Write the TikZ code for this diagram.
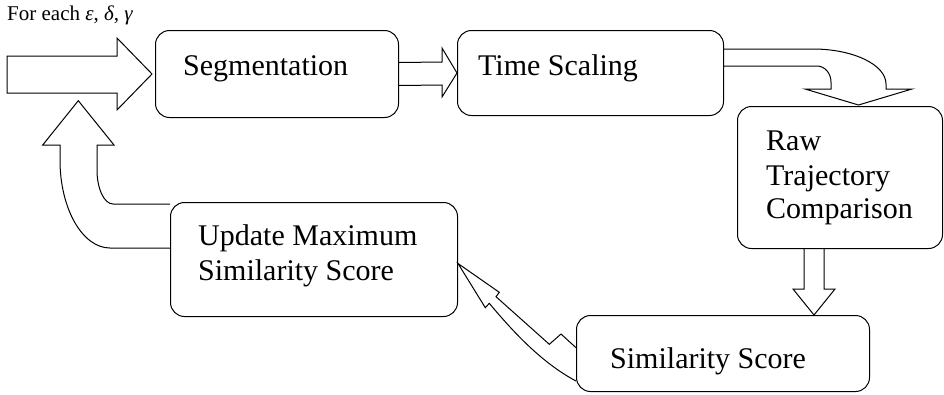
\documentclass[tikz,border=0pt]{standalone}
\usepackage{fontspec}
\setmainfont{Liberation Serif}
\newfontfamily\boxfont{Liberation Serif}
\usetikzlibrary{calc}
\begin{document}
\begin{tikzpicture}[x=1pt,y=-1pt,
  box/.style={draw, line width=1pt, rounded corners=14pt, anchor=north west, inner sep=0pt},
  lbl/.style={anchor=base west, inner sep=0pt, font=\boxfont\fontsize{30}{34.5}\selectfont},
  blockarrow/.style={draw, line width=1pt, line join=miter}]
\useasboundingbox (0,0) rectangle (944,394);

% process boxes
\node[box, minimum width=243pt, minimum height=87pt]  (seg) at (155,30)  {};
\node[box, minimum width=266pt, minimum height=85pt]  (ts)  at (457,30)  {};
\node[box, minimum width=205pt, minimum height=142pt] (raw) at (737,106) {};
\node[box, minimum width=287pt, minimum height=114pt] (upd) at (170,202) {};
\node[box, minimum width=293pt, minimum height=76pt]  (sim) at (576,315) {};

% box labels
\node[lbl] (segtxt) at (183,75)  {Segmentation};
\node[lbl] (tstxt)  at (478,75)  {Time Scaling};
\node[lbl] (raw1)   at (766,150) {Raw};
\node[lbl] (raw2)   at (766,185) {Trajectory};
\node[lbl] (raw3)   at (766,218) {Comparison};
\node[lbl] (upd1)   at (198,245) {Update Maximum};
\node[lbl] (upd2)   at (198,280) {Similarity Score};
\node[lbl] (simtxt) at (610,368) {Similarity Score};

% loop caption
\node[anchor=base west, inner sep=0pt, font=\boxfont\fontsize{21}{24}\selectfont] (cap) at (7,20)
  {For each {\itshape ε}, {\itshape δ}, {\itshape γ}};

% input arrow into segmentation
\draw[blockarrow] (7,56) -- (117,56) -- (117,38) -- ($(seg.west)+(-3,0)$) -- (117,110)
  -- (117,93) -- (7,93) -- cycle;

% segmentation -> time scaling
\draw[blockarrow] ($(seg.east)+(0,-11.5)$) -- (442,62) -- (442,48) -- (ts.west) -- (442,97)
  -- (442,85) -- ($(seg.east)+(0,11.5)$);

% time scaling -> raw trajectory comparison (bent arrow)
\draw[blockarrow] (ts.east |- 0,49) -- (813,49) .. controls (853,49) and (886,64.7) .. (886,84)
  -- (886,89) -- (912,89) -- ($(raw.north)+(18.5,-1)$) -- (805,89) -- (831,89) -- (831,82)
  .. controls (831,73.2) and (824.7,66) .. (817,66) -- (ts.east |- 0,66);

% raw trajectory comparison -> similarity score
\draw[blockarrow] (804,248) -- (804,289) -- (793,289) -- (814,315) -- (835,289)
  -- (824,289) -- (824,248);

% similarity score -> update maximum (zigzag arrow)
\draw[blockarrow] (576,347.7) -- (561,334) -- (549.3,344.3)
  .. controls (530,327) and (512,311) .. (496,296.7) -- (499.3,292.3) -- (upd.east |- 0,263.5)
  -- (485.3,307.7) -- (489.3,303.3) .. controls (510,328) and (540,362) .. (576,381);

% update maximum -> back to the start (bent up arrow)
\draw[blockarrow] (upd.west |- 0,248) -- (110,248) .. controls (82.4,248) and (60,208.6) .. (60,160)
  -- (60,145) -- (42.7,145) -- (78.3,100.7) -- (114,145) -- (97,145) -- (97,170)
  .. controls (97,188.8) and (104.2,204) .. (113,204) -- (upd.west |- 0,204);
\end{tikzpicture}
\end{document}
